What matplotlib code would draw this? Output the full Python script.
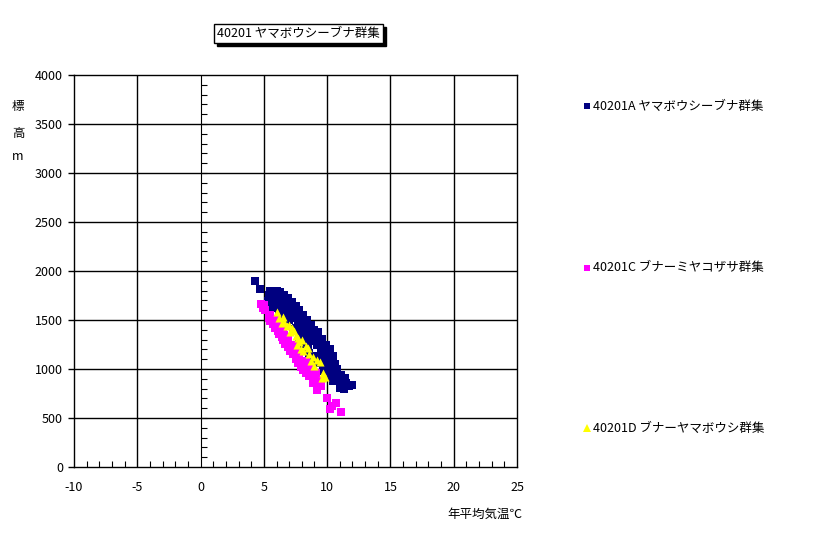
import matplotlib
matplotlib.use("Agg")
import matplotlib.pyplot as plt
from matplotlib.lines import Line2D
from matplotlib.patches import Rectangle
from matplotlib.ticker import MultipleLocator
import numpy as np

plt.rcParams['font.family'] = ['Noto Sans CJK JP', 'DejaVu Sans']

title = "40201 ヤマボウシーブナ群集"
series_names = ["40201A ヤマボウシーブナ群集", "40201C ブナーミヤコザサ群集", "40201D ブナーヤマボウシ群集"]
series_colors = ["#000080", "#FF00FF", "#FFFF00"]
xlabel = "年平均気温℃"
ylabel_chars = ["標", "高", "m"]

a_temp = [4.3, 4.7, 5.3, 5.4, 5.5, 5.6, 5.8, 5.9, 6.0, 6.1, 6.2, 6.3, 6.4, 6.5, 6.6, 6.7,
          6.8, 6.9, 7.0, 7.1, 7.2, 7.3, 7.4, 7.5, 7.6, 7.7, 7.8, 7.9, 8.0, 8.1, 8.2, 8.3,
          8.4, 8.5, 8.6, 8.7, 8.8, 8.9, 9.0, 9.1, 9.2, 9.3, 9.4, 9.5, 9.6, 9.7, 9.8, 9.9,
          10.0, 10.1, 10.2, 10.3, 10.4, 10.5, 10.6, 10.7, 10.8, 10.9, 11.0, 11.1, 11.2,
          11.3, 11.5, 11.7, 12.0, 11.4, 10.0, 9.5, 9.0, 8.5,
          5.6, 6.2, 6.8, 7.3, 7.8, 8.2, 8.6, 8.8, 9.3, 9.7, 10.2, 10.5, 11.0,
          6.0, 6.5, 7.0, 7.5, 8.0, 9.2, 9.9, 10.6, 8.4, 7.7, 5.9]
a_elev = [1900, 1820, 1690, 1760, 1800, 1720, 1780, 1690, 1800, 1740, 1650, 1790, 1700, 1620, 1760, 1680,
          1590, 1720, 1640, 1560, 1680, 1600, 1520, 1640, 1560, 1480, 1600, 1520, 1440, 1550, 1470, 1390,
          1500, 1420, 1340, 1450, 1370, 1290, 1400, 1320, 1240, 1380, 1270, 1190, 1310, 1220, 1140, 1250,
          1170, 1080, 1200, 1110, 1020, 1130, 1050, 960, 1000, 910, 860, 940, 880,
          800, 860, 830, 840, 910, 1000, 1060, 1130, 1200,
          1620, 1570, 1490, 1410, 1330, 1260, 1160, 1090, 1060, 980, 930, 880, 810,
          1660, 1540, 1500, 1420, 1350, 1110, 1040, 990, 1280, 1400, 1640]

c_temp = [4.8, 4.9, 5.0, 5.1, 5.4, 5.5, 5.6, 5.7, 5.8, 5.9, 6.0, 6.1, 6.2, 6.3, 6.4, 6.5,
          6.6, 6.7, 6.8, 6.9, 7.0, 7.1, 7.2, 7.3, 7.4, 7.5, 7.6, 7.7, 7.8, 7.9, 8.0, 8.1,
          8.2, 8.3, 8.5, 8.6, 8.8, 8.9, 9.0, 9.2, 9.5, 10.0, 10.2, 10.4, 10.7, 11.1,
          6.0, 6.5, 6.9, 7.4, 7.8, 8.3, 8.7, 9.1, 9.4, 5.5, 6.2]
c_elev = [1660, 1620, 1650, 1600, 1520, 1490, 1510, 1460, 1480, 1420, 1440, 1390, 1360, 1400, 1330, 1300,
          1350, 1260, 1280, 1220, 1250, 1180, 1200, 1150, 1170, 1100, 1120, 1060, 1080, 1020, 1050, 990,
          1010, 960, 980, 930, 950, 860, 900, 790, 830, 700, 590, 620, 650, 560,
          1500, 1420, 1330, 1240, 1160, 1080, 1020, 960, 880, 1550, 1470]

d_temp = [6.0, 6.2, 6.4, 6.6, 6.8, 7.0, 7.2, 7.1, 7.4, 7.5, 7.7, 7.8, 7.6, 8.0, 8.1, 8.3,
          8.5, 8.6, 8.9, 9.0, 9.2, 9.4, 9.6, 9.8, 9.7, 6.5, 7.9, 8.7]
d_elev = [1580, 1520, 1470, 1480, 1440, 1450, 1420, 1380, 1390, 1340, 1320, 1280, 1250, 1300, 1180, 1230,
          1210, 1150, 1120, 1030, 1090, 1070, 910, 920, 960, 1530, 1200, 1080]

W, H = 816, 534
fig = plt.figure(figsize=(W / 100, H / 100), dpi=100)
ax = fig.add_axes([74 / W, 1 - 467 / H, (517 - 74) / W, (467 - 75) / H])

ax.set_xlim(-10, 25)
ax.set_ylim(0, 4000)

for xv in [-5, 5, 10, 15, 20]:
    ax.axvline(xv, color='black', lw=1.0, zorder=1)
for yv in range(500, 4000, 500):
    ax.axhline(yv, color='black', lw=1.0, zorder=1)
# y-axis crossing at x=0 with minor ticks
ax.axvline(0, color='black', lw=0.8, zorder=1)
minor_y = np.arange(100, 4000, 100)
ax.plot(np.zeros_like(minor_y), minor_y, ls='none', marker=1, markersize=4,
        color='black', mew=0.8, zorder=1)

ax.scatter(a_temp, a_elev, marker='s', s=26, color=series_colors[0], linewidths=0, zorder=3)
ax.scatter(c_temp, c_elev, marker='s', s=26, color=series_colors[1], linewidths=0, zorder=4)
ax.scatter(d_temp, d_elev, marker='^', s=34, color=series_colors[2], linewidths=0, zorder=5)

for sp in ax.spines.values():
    sp.set_color('black')
    sp.set_linewidth(1.0)

ax.xaxis.set_major_locator(MultipleLocator(5))
ax.xaxis.set_minor_locator(MultipleLocator(1))
ax.yaxis.set_major_locator(MultipleLocator(500))
ax.tick_params(axis='x', which='major', direction='out', length=0, labelsize=9, pad=10)
ax.tick_params(axis='x', which='minor', direction='in', length=4, width=0.8)
ax.tick_params(axis='y', which='major', direction='out', length=4, width=1.0, labelsize=9, pad=4)
ax.set_xticks(range(-10, 26, 5))
ax.set_xticklabels([str(v) for v in range(-10, 26, 5)])

# y label characters stacked
for ch, py in zip(ylabel_chars, [107, 133, 157]):
    fig.text(18 / W, 1 - py / H, ch, ha='center', va='center', fontsize=9)

fig.text(485 / W, 1 - 514 / H, xlabel, ha='center', va='center', fontsize=9)

# title box with shadow
bx0, bx1, by0, by1 = 214, 383, 24, 43
fig.patches.append(Rectangle((bx0 + 3, H - by1 - 3), bx1 - bx0, by1 - by0, transform=None,
                             facecolor='black', edgecolor='black', zorder=1))
fig.patches.append(Rectangle((bx0, H - by1), bx1 - bx0, by1 - by0, transform=None,
                             facecolor='white', edgecolor='black', lw=1.0, zorder=2))
fig.text((bx0 + bx1) / 2 / W, 1 - 33.5 / H, title, ha='center', va='center', fontsize=9, zorder=3)

# legend
markers = ['s', 's', '^']
for name, col, mk, py in zip(series_names, series_colors, markers, [106, 268, 428]):
    fig.add_artist(Line2D([587 / W], [1 - py / H], marker=mk, markersize=5 if mk == 's' else 6,
                          color=col, ls='none', mew=0, transform=fig.transFigure))
    fig.text(593 / W, 1 - py / H, name, ha='left', va='center', fontsize=9)

fig.savefig("out.png", dpi=100)
